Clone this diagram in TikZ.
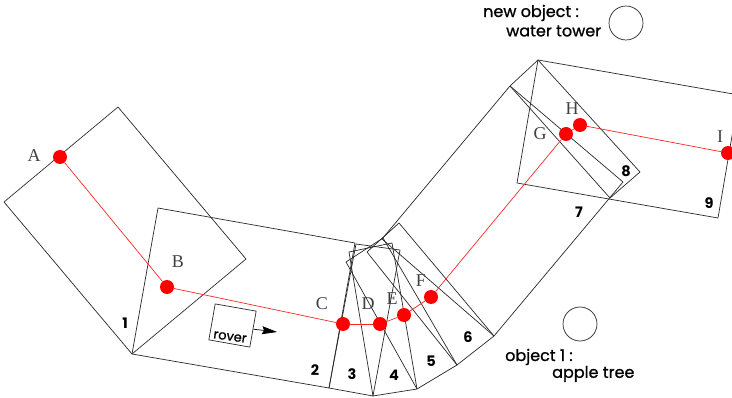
\documentclass[tikz,border=0pt]{standalone}
\usepackage{fontspec}
\setmainfont{Liberation Serif}
\newfontfamily\tagfont[FakeBold=1]{Poppins}
\newfontfamily\numfont{Poppins}
\usetikzlibrary{arrows.meta}

\definecolor{wayred}{RGB}{255,0,0}
\definecolor{outline}{RGB}{40,40,40}

\begin{document}
\begin{tikzpicture}[x=1pt, y=-1pt, every node/.style={inner sep=0pt},
  sector/.style={draw=outline, line width=0.7pt, line join=round},
  track/.style={draw=wayred!85!white, line width=0.7pt},
  waypoint/.style={circle, fill=wayred, minimum size=14pt},
  wayname/.style={font=\fontsize{18}{18}\selectfont, text=black!75},
  number/.style={font=\numfont\fontsize{14.5}{14.5}\selectfont\bfseries},
  caption/.style={font=\tagfont\fontsize{16}{16}\selectfont, text=black, anchor=west},
  object/.style={circle, draw=outline, line width=0.7pt, minimum size=34pt}]
  \clip (0,0) rectangle (732,398);

  % sectors
  \draw[sector] (118,107) -- (4,202) -- (132,354) -- (246,259) -- cycle;
  \draw[sector] (158,208) -- (132,354) -- (329,388) -- (355,243) -- cycle;
  \draw[sector] (356,244) -- (329,388) -- (373,396) -- (400,250) -- cycle;
  \draw[sector] (349,252) -- (373,396) -- (417,389) -- (392,243) -- cycle;
  \draw[sector] (346,262) -- (417,389) -- (457,365) -- (383,238) -- cycle;
  \draw[sector] (367,252) -- (457,365) -- (494,336) -- (399,223) -- cycle;
  \draw[sector] (382,239) -- (510,86) -- (623,182) -- (494,336) -- cycle;
  \draw[sector] (510,86) -- (538,60) -- (640,172) -- (610,198) -- cycle;
  \draw[sector] (538,60) -- (517,183) -- (718,218) -- (739,95) -- cycle;

  % waypoints
  \node[waypoint] (A) at (60,157) {};
  \node[waypoint] (B) at (167,287) {};
  \node[waypoint] (C) at (343,324) {};
  \node[waypoint] (D) at (380,324) {};
  \node[waypoint] (E) at (404,315) {};
  \node[waypoint] (F) at (431,297) {};
  \node[waypoint] (G) at (566,134) {};
  \node[waypoint] (H) at (580,125) {};
  \node[waypoint] (I) at (728,153) {};
  \draw[track] (A) -- (B); \draw[track] (B) -- (C); \draw[track] (C) -- (D);
  \draw[track] (D) -- (E); \draw[track] (E) -- (F); \draw[track] (F) -- (G);
  \draw[track] (G) -- (H); \draw[track] (H) -- (I);

  \node[wayname] (nameA) at (34,156) {A};
  \node[wayname] (nameB) at (178,262) {B};
  \node[wayname] (nameC) at (322,304) {C};
  \node[wayname] (nameD) at (368,304) {D};
  \node[wayname] (nameE) at (392,299) {E};
  \node[wayname] (nameF) at (421,281) {F};
  \node[wayname] (nameG) at (540,134) {G};
  \node[wayname] (nameH) at (572,109) {H};
  \node[wayname] (nameI) at (720,137) {I};

  % sector numbers
  \foreach \n/\px/\py in {1/125/323, 2/315/370, 3/352/374, 4/394/375, 5/431/361,
    6/468/337, 7/579/212, 8/626/171, 9/709/203}
    \node[number] (num\n) at (\px,\py) {\n};

  % rover
  \node[draw=outline, line width=0.7pt, rotate=-10, minimum width=41.6pt, minimum height=36.5pt] (rover) at (232.5,325.5) {};
  \node[font=\tagfont\fontsize{13}{13}\selectfont, rotate=-8] (roverlabel) at (230,337) {rover};
  \coordinate (roverhead) at (277,332);
  \draw[-{Stealth[length=15pt, width=8pt, inset=2pt]}, black, line width=0.7pt] (rover.east) -- (roverhead);

  % objects
  \node[object] (tower) at (626,23) {};
  \node[caption] (towerlabel) at (483,13) {new object :};
  \node[caption] (towerlabelb) at (506,31) {water tower};
  \node[object] (tree) at (580,324) {};
  \node[caption] (treelabel) at (505,357) {object 1 :};
  \node[caption] (treelabelb) at (552,374) {apple tree};
\end{tikzpicture}
\end{document}
